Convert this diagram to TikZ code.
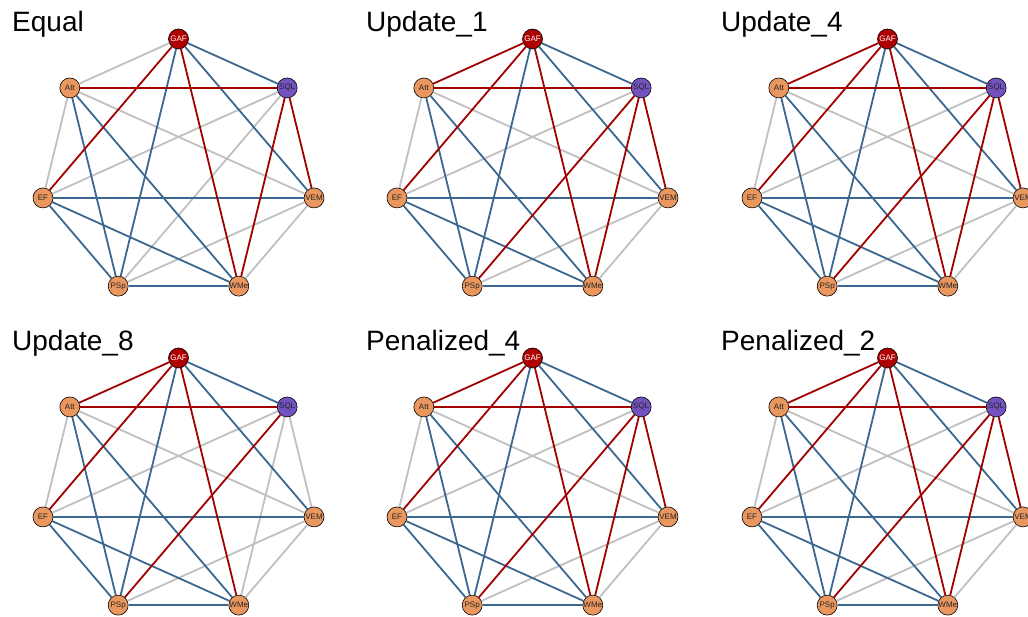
\documentclass[tikz,border=0pt]{standalone}
\usepackage{fontspec}
\newfontfamily\plotfont{Liberation Sans}
\usepackage{xcolor}
\definecolor{posedge}{HTML}{A30000}
\definecolor{negedge}{HTML}{3B6790}
\definecolor{nulledge}{HTML}{C0C0C0}
\definecolor{nodeorange}{HTML}{E9965F}
\definecolor{nodered}{HTML}{AE0000}
\definecolor{nodepurple}{HTML}{7352BF}
\usepackage{tikz}

\tikzset{
  vert/.style={circle, draw=black, line width=0.6pt, fill=nodeorange,
    minimum size=20pt, inner sep=0pt, text=black!85,
    font=\plotfont\fontsize{8}{8}\selectfont},
  vert GAF/.style={fill=nodered, text=white},
  vert SQL/.style={fill=nodepurple},
  vert VEM/.style={}, vert WMe/.style={}, vert PSp/.style={},
  vert EF/.style={}, vert Att/.style={},
  rededge/.style={posedge, line width=1.8pt},
  blueedge/.style={negedge, line width=1.8pt},
  grayedge/.style={nulledge, line width=1.8pt},
  paneltitle/.style={anchor=base west, inner sep=0pt,
    font=\plotfont\fontsize{28}{30}\selectfont}
}

% #1,#2 panel offset, #3 title, #4 prefix, #5 red, #6 blue, #7 gray
\newcommand{\netpanel}[7]{
  \node[paneltitle] (#4title) at (#1+12, #2+32) {#3};
  % heptagon of variables
  \foreach \nm/\ang in {GAF/90, SQL/38.57, VEM/-12.86, WMe/-64.29,
                        PSp/-115.71, EF/-167.14, Att/141.43}
    \node[vert, vert \nm] (#4\nm) at ({#1+178.5+139*cos(\ang)}, {#2+169-130*sin(\ang)}) {\nm};
  % edges: gray under blue under red
  \foreach \a/\b in {#7} \draw[grayedge] (#4\a) -- (#4\b);
  \foreach \a/\b in {#6} \draw[blueedge] (#4\a) -- (#4\b);
  \foreach \a/\b in {#5} \draw[rededge]  (#4\a) -- (#4\b);
}

\begin{document}
\begin{tikzpicture}[x=1pt, y=-1pt]
  \useasboundingbox (0,0) rectangle (1028,617);

  % top row
  \netpanel{0}{0}{Equal}{eq}
    {GAF/WMe, GAF/EF, SQL/Att, SQL/VEM, SQL/WMe}
    {GAF/SQL, GAF/VEM, GAF/PSp, VEM/EF, WMe/Att, WMe/EF, WMe/PSp, PSp/Att, PSp/EF}
    {GAF/Att, SQL/EF, SQL/PSp, VEM/Att, VEM/PSp, VEM/WMe, EF/Att}
  \netpanel{354}{0}{Update\_1}{ua}
    {GAF/Att, GAF/WMe, GAF/EF, SQL/Att, SQL/VEM, SQL/WMe, SQL/PSp}
    {GAF/SQL, GAF/VEM, GAF/PSp, VEM/EF, WMe/Att, WMe/EF, WMe/PSp, PSp/Att, PSp/EF}
    {SQL/EF, VEM/Att, VEM/PSp, VEM/WMe, EF/Att}
  \netpanel{709}{0}{Update\_4}{ub}
    {GAF/Att, GAF/WMe, GAF/EF, SQL/Att, SQL/VEM, SQL/WMe, SQL/PSp}
    {GAF/SQL, GAF/VEM, GAF/PSp, VEM/EF, WMe/Att, WMe/EF, WMe/PSp, PSp/Att, PSp/EF}
    {SQL/EF, VEM/Att, VEM/PSp, VEM/WMe, EF/Att}

  % bottom row
  \netpanel{0}{319}{Update\_8}{uc}
    {GAF/Att, GAF/WMe, GAF/EF, SQL/Att, SQL/PSp}
    {GAF/SQL, GAF/VEM, GAF/PSp, VEM/EF, WMe/Att, WMe/EF, WMe/PSp, PSp/Att, PSp/EF}
    {SQL/VEM, SQL/WMe, SQL/EF, VEM/Att, VEM/PSp, VEM/WMe, EF/Att}
  \netpanel{354}{319}{Penalized\_4}{pa}
    {GAF/Att, GAF/WMe, GAF/EF, SQL/Att, SQL/VEM, SQL/WMe, SQL/PSp}
    {GAF/SQL, GAF/VEM, GAF/PSp, VEM/EF, WMe/Att, WMe/EF, WMe/PSp, PSp/Att, PSp/EF}
    {SQL/EF, VEM/Att, VEM/PSp, VEM/WMe, EF/Att}
  \netpanel{709}{319}{Penalized\_2}{pb}
    {GAF/Att, GAF/WMe, GAF/EF, SQL/Att, SQL/VEM, SQL/WMe, SQL/PSp}
    {GAF/SQL, GAF/VEM, GAF/PSp, VEM/EF, WMe/Att, WMe/EF, WMe/PSp, PSp/Att, PSp/EF}
    {SQL/EF, VEM/Att, VEM/PSp, VEM/WMe, EF/Att}
\end{tikzpicture}
\end{document}
